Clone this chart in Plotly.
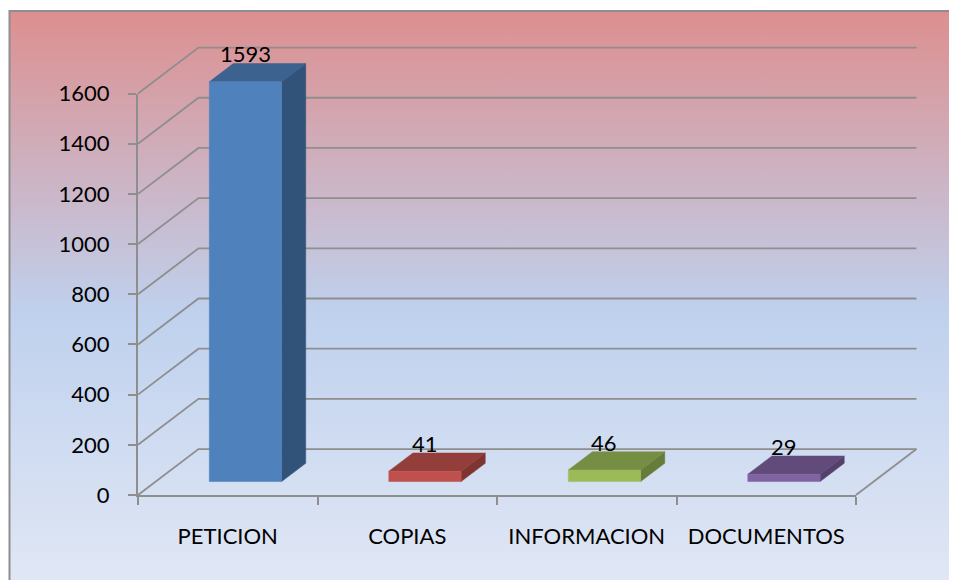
import plotly.graph_objects as go

categories = ["PETICION", "COPIAS", "INFORMACION", "DOCUMENTOS"]
values = [1593, 41, 46, 29]
y_ticks = [0, 200, 400, 600, 800, 1000, 1200, 1400, 1600]

front_colors = ["#4F81BD", "#C0504D", "#9BBB59", "#8064A2"]
top_colors = ["#3C6290", "#943E3B", "#768E44", "#614B7B"]
side_colors = ["#315279", "#7F3432", "#677C3B", "#54416B"]

W, H = 957, 580
PAGE = 8  # default body margin of the written page
GRAY = "#8E8E8E"
FONT = dict(family="Lato", size=22, color="#000000")

# oblique projection of the depth axis, in axis units
DEPTH_X = 0.337
DEPTH_Y = 183
BAR_HALF = 0.2015
DEPTH_FRONT = 0.293
DEPTH_BACK = 0.691

n_cat = len(categories)
# front plane placement on the page
LEFT, RIGHT, BOTTOM, TOP = 138 - PAGE, 856 - PAGE, 495 - PAGE, 93.5 - PAGE
PX_X = (RIGHT - LEFT) / n_cat
PX_Y = (BOTTOM - TOP) / y_ticks[-1]
# drawing axes reach past the front plane so that the walls are not clipped
XR = [-0.02, n_cat + 0.36]
YR = [-20, y_ticks[-1] + 200]


def proj(x, v, d):
    return x + d * DEPTH_X, v + d * DEPTH_Y


def poly(points, color):
    xs = [p[0] for p in points] + [points[0][0]]
    ys = [p[1] for p in points] + [points[0][1]]
    return go.Scatter(x=xs, y=ys, xaxis="x2", yaxis="y2", mode="lines", fill="toself",
                      fillcolor=color, line=dict(width=0.5, color=color), hoverinfo="skip")


fig = go.Figure()

# chart-area background
x0, y_top = (9.5 - PAGE) / W, (H - (11 - PAGE)) / H
fig.add_trace(go.Scatter(
    x=[x0, 1.01, 1.01, x0, x0], y=[-0.01, -0.01, y_top, y_top, -0.01],
    mode="lines", fill="toself", line=dict(color=GRAY, width=2),
    fillgradient=dict(type="vertical", colorscale=[
        [0, "#E2E8F5"], [0.48, "#BFD1EE"], [1, "#DD8F8F"]]),
    hoverinfo="skip"))

# walls: horizontal grid on the back, diagonals on the side, floor edge
gx, gy = [], []
for t in y_ticks:
    a = proj(0, t, 0)
    b = proj(0, t, 1)
    c = proj(n_cat, t, 1)
    gx += [a[0], b[0], c[0], None]
    gy += [a[1], b[1], c[1], None]
a = proj(n_cat, 0, 0)
b = proj(n_cat, 0, 1)
gx += [a[0], b[0]]
gy += [a[1], b[1]]
fig.add_trace(go.Scatter(x=gx, y=gy, xaxis="x2", yaxis="y2", mode="lines",
                         line=dict(color=GRAY, width=1.8), hoverinfo="skip"))

# 3-D bars
for i, v in enumerate(values):
    l, r = i + 0.5 - BAR_HALF, i + 0.5 + BAR_HALF
    fig.add_trace(poly([proj(r, 0, DEPTH_FRONT), proj(r, 0, DEPTH_BACK),
                        proj(r, v, DEPTH_BACK), proj(r, v, DEPTH_FRONT)], side_colors[i]))
    fig.add_trace(poly([proj(l, v, DEPTH_FRONT), proj(r, v, DEPTH_FRONT),
                        proj(r, v, DEPTH_BACK), proj(l, v, DEPTH_BACK)], top_colors[i]))
    fig.add_trace(poly([proj(l, 0, DEPTH_FRONT), proj(r, 0, DEPTH_FRONT),
                        proj(r, v, DEPTH_FRONT), proj(l, v, DEPTH_FRONT)], front_colors[i]))

# empty trace that brings up the visible axes
fig.add_trace(go.Scatter(x=[None], y=[None], xaxis="x3", yaxis="y3", hoverinfo="skip"))

annotations = []
for i, v in enumerate(values):
    px, py = proj(i + 0.5, v, DEPTH_FRONT)
    annotations.append(dict(x=px, y=py, xref="x2", yref="y2", text=str(v), showarrow=False,
                            yanchor="middle", xanchor="center", yshift=28, font=FONT))

fig.update_layout(
    width=W, height=H, margin=dict(l=0, r=0, t=0, b=0, autoexpand=False),
    paper_bgcolor="white", plot_bgcolor="rgba(0,0,0,0)", showlegend=False,
    hovermode=False, annotations=annotations,
    xaxis=dict(domain=[0, 1], range=[0, 1], visible=False, fixedrange=True),
    yaxis=dict(domain=[0, 1], range=[0, 1], visible=False, fixedrange=True),
    xaxis2=dict(domain=[(LEFT + XR[0] * PX_X) / W, (LEFT + XR[1] * PX_X) / W], range=XR,
                anchor="y2", visible=False, fixedrange=True),
    yaxis2=dict(domain=[(H - BOTTOM + YR[0] * PX_Y) / H, (H - BOTTOM + YR[1] * PX_Y) / H],
                range=YR, anchor="x2", visible=False, fixedrange=True),
    xaxis3=dict(domain=[LEFT / W, RIGHT / W], range=[0, n_cat], anchor="y3", fixedrange=True,
                showgrid=False, zeroline=False, showline=True, linecolor=GRAY, linewidth=2,
                tickvals=[i + 0.5 for i in range(n_cat)], ticktext=categories,
                ticks="", tickfont=FONT, ticklabelstandoff=21, tickangle=0,
                minor=dict(tickvals=list(range(n_cat + 1)), ticks="outside", ticklen=8,
                           tickwidth=2, tickcolor=GRAY, showgrid=False)),
    yaxis3=dict(domain=[(H - BOTTOM) / H, (H - TOP) / H], range=[0, y_ticks[-1]], anchor="x3",
                fixedrange=True, showgrid=False, zeroline=False, showline=True,
                linecolor=GRAY, linewidth=2, tickvals=y_ticks, ticks="outside", ticklen=8,
                tickwidth=2, tickcolor=GRAY, tickfont=FONT, ticklabelstandoff=14),
)

fig.write_html("out.html")
